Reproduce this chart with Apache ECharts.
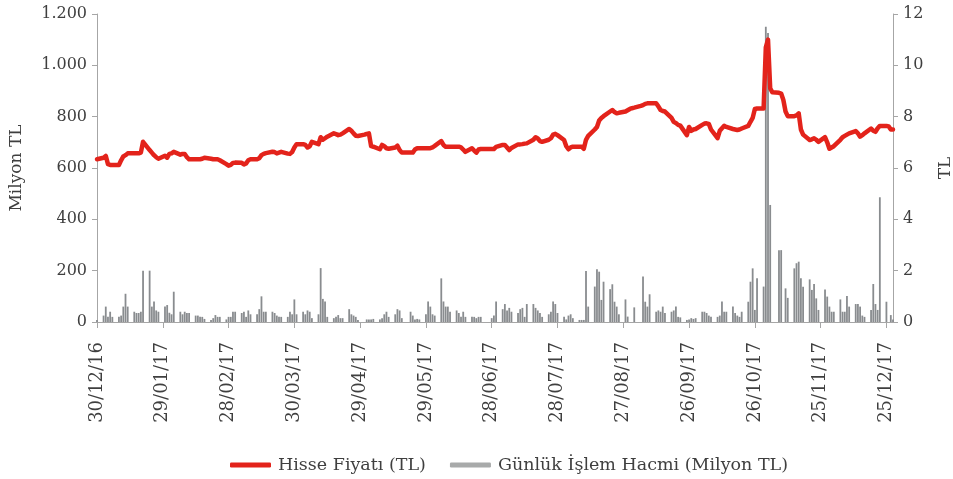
<!DOCTYPE html>
<html>
<head>
<meta charset="utf-8">
<script src="https://cdn.jsdelivr.net/npm/echarts@6/dist/echarts.min.js"></script>
<style>
  html, body { margin: 0; padding: 0; background: #fff; }
  #chart { width: 953px; height: 479px; }
</style>
</head>
<body>
<div id="chart"></div>
<script>
// first day 30/12/16 (Friday), then one row per week, Mon..Fri
const ilkFiyat = 6.34
const ilkHacim = 8

// Hisse Fiyati (TL)
const fiyat = [
  [6.40, 6.47, 6.15, 6.12, 6.12], [6.12, 6.30, 6.45, 6.50, 6.57], [6.57, 6.57, 6.57, 6.60, 7.02],
  [6.70, 6.60, 6.50, 6.42, 6.36], [6.48, 6.40, 6.55, 6.57, 6.63], [6.52, 6.55, 6.55, 6.42, 6.34],
  [6.34, 6.34, 6.34, 6.36, 6.40], [6.36, 6.34, 6.34, 6.34, 6.30], [6.15, 6.09, 6.12, 6.20, 6.21],
  [6.20, 6.14, 6.18, 6.30, 6.34], [6.34, 6.38, 6.50, 6.55, 6.58], [6.63, 6.62, 6.57, 6.60, 6.63],
  [6.56, 6.55, 6.62, 6.80, 6.93], [6.93, 6.90, 6.80, 6.85, 7.02], [6.93, 7.20, 7.10, 7.16, 7.22],
  [7.35, 7.32, 7.28, 7.30, 7.35], [7.52, 7.45, 7.35, 7.26, 7.25], [7.30, 7.33, 7.35, 6.85, 6.83],
  [6.73, 6.90, 6.85, 6.77, 6.75], [6.80, 6.87, 6.70, 6.60, 6.60], [6.60, 6.60, 6.72, 6.77, 6.77],
  [6.77, 6.77, 6.77, 6.80, 6.86], [7.05, 6.90, 6.83, 6.83, 6.83], [6.83, 6.83, 6.80, 6.72, 6.63],
  [6.77, 6.68, 6.60, 6.72, 6.74], [6.74, 6.74, 6.74, 6.74, 6.82], [6.90, 6.90, 6.80, 6.70, 6.78],
  [6.92, 6.92, 6.93, 6.95, 6.96], [7.10, 7.20, 7.15, 7.05, 7.02], [7.10, 7.16, 7.30, 7.33, 7.28],
  [7.09, 6.85, 6.73, 6.80, 6.83], [6.83, 6.83, 6.75, 7.10, 7.25], [7.50, 7.60, 7.85, 7.95, 8.02],
  [8.20, 8.26, 8.18, 8.13, 8.15], [8.20, 8.25, 8.30, 8.33, 8.35], [8.42, 8.45, 8.50, 8.52, 8.52],
  [8.52, 8.40, 8.26, 8.22, 8.20], [7.95, 7.80, 7.75, 7.68, 7.65], [7.28, 7.60, 7.45, 7.50, 7.52],
  [7.68, 7.73, 7.74, 7.72, 7.50], [7.16, 7.45, 7.55, 7.64, 7.60], [7.52, 7.50, 7.48, 7.50, 7.54],
  [7.64, 7.80, 7.95, 8.30, 8.32], [8.32, 10.70, 11.00, 9.10, 8.95], [8.93, 8.90, 8.65, 8.20, 8.02],
  [8.02, 8.05, 8.13, 7.50, 7.30], [7.09, 7.12, 7.16, 7.10, 7.02], [7.20, 7.00, 6.75, 6.80, 6.85],
  [7.10, 7.20, 7.25, 7.30, 7.35], [7.44, 7.35, 7.22, 7.28, 7.35], [7.54, 7.45, 7.41, 7.55, 7.64],
  [7.64, 7.62, 7.50, 7.50]
]

// Gunluk Islem Hacmi (Milyon TL)
const hacim = [
  [25, 60, 20, 40, 20], [20, 25, 60, 110, 60], [40, 35, 35, 40, 200],
  [200, 60, 80, 45, 40], [60, 66, 36, 30, 118], [40, 30, 40, 35, 35],
  [25, 25, 20, 20, 12], [8, 15, 27, 20, 20], [10, 20, 20, 40, 40],
  [35, 40, 20, 45, 30], [30, 50, 100, 40, 40], [40, 35, 25, 20, 20],
  [20, 40, 30, 88, 30], [40, 30, 45, 40, 15], [30, 210, 90, 80, 20],
  [15, 20, 27, 15, 15], [50, 30, 25, 20, 8], [null, 10, 10, 10, 12],
  [10, 15, 30, 40, 20], [30, 50, 45, 15, null], [40, 25, 10, 12, 10],
  [30, 80, 60, 30, 25], [170, 80, 60, 60, 40], [45, 35, 20, 40, 20],
  [20, 20, 15, 20, 20], [null, null, 15, 25, 80], [50, 70, 45, 55, 40],
  [35, 50, 55, 20, 70], [70, 55, 45, 35, 20], [30, 40, 80, 70, 35],
  [20, 10, 25, 30, 15], [8, 8, 8, 199, 60], [138, 206, 196, 86, 157],
  [128, 147, 79, 60, 30], [88, 21, null, null, 57], [null, 177, 79, 60, 108],
  [40, 45, 40, 60, 35], [40, 45, 60, 20, 18], [8, 10, 15, 12, 15],
  [40, 40, 35, 25, 20], [20, 25, 80, 40, 40], [60, 35, 25, 20, 40],
  [79, 157, 209, 47, 170], [138, 1150, 1126, 456, null], [280, 280, null, 131, 94],
  [209, 229, 235, 170, 137], [166, 125, 148, 92, 47], [127, 99, 60, 40, 40],
  [88, 40, 40, 101, 60], [70, 70, 60, 25, 20], [47, 148, 70, 47, 486],
  [79, null, 27, 10]
]

const gunSayisi = 364   // 30/12/16 .. 28/12/17, calendar days

const pad = n => (n < 10 ? '0' : '') + n
const gunler = []
const fiyatSeri = []
const hacimSeri = []
const baslangic = Date.UTC(2016, 11, 30)
for (let d = 0; d < gunSayisi; d++) {
  const t = new Date(baslangic + d * 86400000)
  gunler.push(pad(t.getUTCDate()) + '/' + pad(t.getUTCMonth() + 1) + '/' + String(t.getUTCFullYear()).slice(2))
  const dow = t.getUTCDay()
  if (d === 0) {
    fiyatSeri.push(ilkFiyat)
    hacimSeri.push(ilkHacim)
  } else if (dow === 0 || dow === 6) {
    fiyatSeri.push(null)
    hacimSeri.push(null)
  } else {
    const w = Math.floor((d - 3) / 7)
    const row1 = fiyat[w] || []
    const row2 = hacim[w] || []
    fiyatSeri.push(row1[dow - 1] == null ? null : row1[dow - 1])
    hacimSeri.push(row2[dow - 1] == null ? null : row2[dow - 1])
  }
}

const yazi = 'DejaVu Serif'
const yaziRenk = '#3f3f3f'
const eksenRenk = '#a6a6a6'

const binlik = v => String(v).replace(/\B(?=(\d{3})+(?!\d))/g, '.')

const chart = echarts.init(document.getElementById('chart'))
chart.setOption({
  animation: false,
  textStyle: { fontFamily: yazi, color: yaziRenk },
  grid: { left: 97, right: 60, top: 14, bottom: 157, outerBoundsMode: 'none', containLabel: false },
  legend: {
    left: 225,
    top: 451,
    itemWidth: 41,
    itemHeight: 5,
    itemGap: 24,
    icon: 'roundRect',
    textStyle: { fontFamily: yazi, fontSize: 17.5, color: yaziRenk, padding: [0, 0, 0, 2] },
    data: [
      { name: 'Hisse Fiyatı (TL)' },
      { name: 'Günlük İşlem Hacmi (Milyon TL)', itemStyle: { color: '#a8aaaa' } }
    ]
  },
  xAxis: {
    type: 'category',
    data: gunler,
    boundaryGap: false,
    axisLine: { lineStyle: { color: eksenRenk, width: 1 } },
    axisTick: { interval: 29, length: 6, lineStyle: { color: eksenRenk } },
    axisLabel: {
      interval: 29,
      rotate: 90,
      margin: 20,
      fontFamily: yazi,
      fontSize: 18,
      color: yaziRenk
    },
    splitLine: { show: false }
  },
  yAxis: [
    {
      type: 'value',
      min: 0,
      max: 1200,
      interval: 200,
      name: 'Milyon TL',
      nameLocation: 'middle',
      nameRotate: 90,
      nameGap: 72,
      nameTextStyle: { fontFamily: yazi, fontSize: 17, color: yaziRenk },
      axisLine: { show: true, lineStyle: { color: eksenRenk } },
      axisTick: { show: true, length: 5, lineStyle: { color: eksenRenk } },
      axisLabel: { fontFamily: yazi, fontSize: 16, color: yaziRenk, margin: 10, formatter: binlik },
      splitLine: { show: false }
    },
    {
      type: 'value',
      min: 0,
      max: 12,
      interval: 2,
      name: 'TL',
      nameLocation: 'middle',
      nameRotate: 90,
      nameGap: 44,
      nameTextStyle: { fontFamily: yazi, fontSize: 17, color: yaziRenk },
      axisLine: { show: true, lineStyle: { color: eksenRenk } },
      axisTick: { show: true, length: 5, lineStyle: { color: eksenRenk } },
      axisLabel: { fontFamily: yazi, fontSize: 16, color: yaziRenk, margin: 10 },
      splitLine: { show: false }
    }
  ],
  series: [
    {
      name: 'Günlük İşlem Hacmi (Milyon TL)',
      type: 'bar',
      yAxisIndex: 0,
      data: hacimSeri,
      barWidth: 1.8,
      itemStyle: { color: '#898c8f' },
      z: 1
    },
    {
      name: 'Hisse Fiyatı (TL)',
      type: 'line',
      yAxisIndex: 1,
      data: fiyatSeri,
      connectNulls: true,
      showSymbol: false,
      symbol: 'none',
      lineStyle: { color: '#e3231b', width: 4.5, join: 'round', cap: 'round' },
      itemStyle: { color: '#e3231b' },
      z: 3
    }
  ]
})
</script>
</body>
</html>
